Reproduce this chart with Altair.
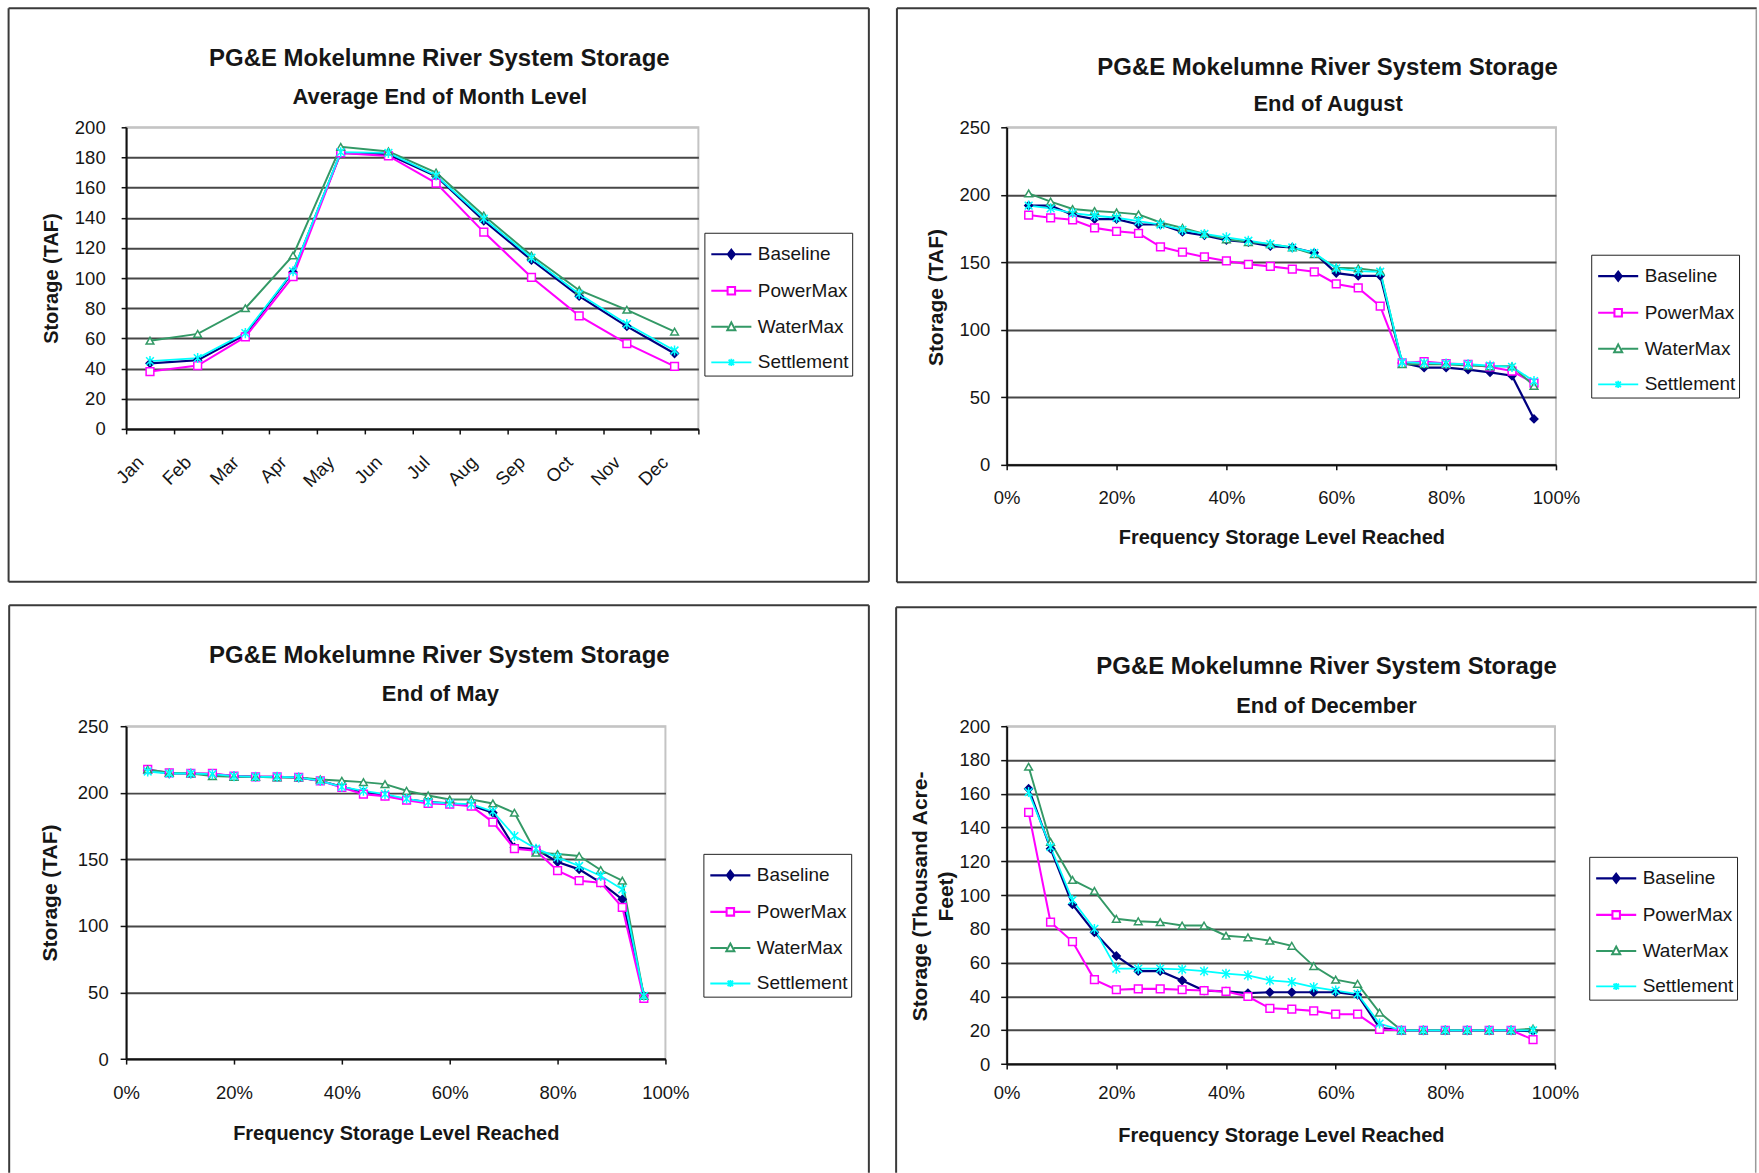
import altair as alt
import pandas as pd

FONT = "Liberation Sans"
TEXT = "#161616"
BORDER = "#3a3a3a"
EDGE = "#9a9a9a"
AXIS = "#111111"

SERIES = ["Baseline", "PowerMax", "WaterMax", "Settlement"]
COLORS = ["#000080", "#FF00FF", "#339966", "#00FFFF"]
FILLS = ["#000080", "#FFFFFF", "#FFFFFF", "transparent"]
LINE_WIDTHS = [2.2, 1.8, 1.4, 2.0]
ASTERISK = "M-1,-1L1,1M-1,1L1,-1M0,-1.3V1.3"
SHAPES = ["diamond", "square", "triangle-up", ASTERISK]
LEGEND_PATHS = [
    "M-1.18,0H1.18M0,-0.26L0.2,0L0,0.26L-0.2,0Z",
    "M-1.18,0H-0.22M0.22,0H1.18M-0.22,-0.22H0.22V0.22H-0.22Z",
    "M-1.18,0H-0.2M0.2,0H1.18M0,-0.26L0.24,0.2H-0.24Z",
    "M-1.18,0H1.18M-0.16,-0.16L0.16,0.16M-0.16,0.16L0.16,-0.16M0,-0.21V0.21",
]

TITLE = "PG&E Mokelumne River System Storage"
SUB_MONTH = "Average End of Month Level"
SUB_AUG = "End of August"
SUB_MAY = "End of May"
SUB_DEC = "End of December"
X_TITLE = "Frequency Storage Level Reached"
Y_TITLE_TL = "Storage (TAF)"
Y_TITLE_TR = "Storage  (TAF)"
Y_TITLE_BL = "Storage  (TAF)"
Y_TITLE_BR = ["Storage (Thousand Acre-", "Feet)"]

MONTHS = ["Jan", "Feb", "Mar", "Apr", "May", "Jun", "Jul", "Aug", "Sep", "Oct", "Nov", "Dec"]
MONTH_BASELINE = [43.5, 45.5, 62.5, 104, 183, 182, 167.5, 138, 112, 88, 68, 50]
MONTH_POWERMAX = [38, 42, 61, 101, 183, 181, 163, 130.5, 100.5, 75, 56.5, 41.5]
MONTH_WATERMAX = [58.5, 63, 80, 115, 187, 184, 170, 141.5, 115, 92, 79, 64.5]
MONTH_SETTLEMENT = [45, 47, 63.5, 104.5, 183.5, 183, 168, 139.5, 113.5, 89.5, 69.5, 52]

FREQ = [0.04, 0.08, 0.12, 0.16, 0.20, 0.24, 0.28, 0.32, 0.36, 0.40, 0.44, 0.48,
        0.52, 0.56, 0.60, 0.64, 0.68, 0.72, 0.76, 0.80, 0.84, 0.88, 0.92, 0.96]
FREQ_TICKS = [0, 0.2, 0.4, 0.6, 0.8, 1.0]

AUG_BASELINE = [192, 192, 185, 182, 182, 178, 178, 172.5, 170, 166.5, 165, 162,
                161, 157, 142, 140, 140, 75.5, 72, 72, 70.5, 68.5, 66, 34]
AUG_POWERMAX = [185, 183, 181.5, 175.5, 173, 171.5, 161.5, 157.5, 154, 151, 148.5, 147,
                145, 143, 134, 131, 117.5, 75.5, 76.5, 75, 74.5, 72.5, 69.5, 60.5]
AUG_WATERMAX = [201, 195, 189.5, 188, 187, 185.5, 179.5, 175.5, 171, 167, 165, 163.5,
                161, 156, 146, 145.5, 143.5, 74.5, 74.5, 74.5, 73.5, 73, 73, 58.5]
AUG_SETTLEMENT = [192, 190, 186.5, 184.5, 183, 180.5, 178, 174, 171, 168.5, 166, 163.5,
                  161, 157, 145.5, 143.5, 143, 76, 75.5, 75, 74.5, 73.5, 72.5, 62]

MAY_BASELINE = [217, 214.5, 214.5, 214, 212.5, 212, 212, 211.5, 209, 204.5, 200.5, 198,
                195, 193, 192, 190.5, 185, 159, 157.5, 148, 142.5, 132.5, 120, 47.5]
MAY_POWERMAX = [217.5, 215, 214.5, 214.5, 212.5, 212, 212, 211.5, 209, 204, 199, 197.5,
                194.5, 192, 191.5, 190, 178, 158, 156.5, 141.5, 134, 132.5, 114, 45.5]
MAY_WATERMAX = [217.5, 215, 214.5, 212.5, 212, 212, 211.5, 211.5, 210, 209, 208, 206.5,
                201.5, 198, 195, 195, 192, 185, 155, 154, 152.5, 142, 134, 47.5]
MAY_SETTLEMENT = [216, 214.5, 214.5, 214, 212.5, 212, 212, 211.5, 209, 204.5, 201.5, 199,
                  195.5, 193, 192, 191.5, 186, 167.5, 158, 151.5, 145, 137.5, 127.5, 47.5]

DEC_BASELINE = [163, 127.5, 94.5, 78, 64, 55, 55, 49.5, 43.5, 43, 42, 42.5,
                42.5, 42.5, 42.5, 41, 21.5, 20, 20, 20, 20, 20, 20, 19.5]
DEC_POWERMAX = [149, 84, 72.5, 50, 44, 44.5, 44.5, 44, 43.5, 43, 40, 33,
                32.5, 31.5, 29.5, 29.5, 20.5, 20, 20, 20, 20, 20, 20, 14.5]
DEC_WATERMAX = [176, 131.5, 109, 102.5, 86, 84.5, 84, 82, 82, 76, 75, 73,
                70, 58, 50, 47.5, 30.5, 20, 20, 20, 20, 20, 20, 21]
DEC_SETTLEMENT = [161, 128.5, 97, 80, 56.5, 56.5, 56.5, 56, 55, 53.5, 52.5, 49.5,
                  48.5, 45.5, 43.5, 41.5, 24, 20, 20, 20, 20, 20, 20, 20]

ONE = pd.DataFrame({"k": [0]})


def long_df(xs, lists):
    rows = []
    for s, vals in zip(SERIES, lists):
        for i, (x, v) in enumerate(zip(xs, vals)):
            rows.append({"x": x, "idx": i, "series": s, "value": v})
    return pd.DataFrame(rows)


def pick(values):
    expr = "'" + values[-1] + "'"
    for s, v in reversed(list(zip(SERIES[:-1], values[:-1]))):
        expr = "datum.value === '" + s + "' ? '" + v + "' : (" + expr + ")"
    return {"expr": expr}


def make_legend(lx, ly):
    return alt.Legend(
        title=None, orient="none", legendX=lx, legendY=ly,
        symbolType=pick(LEGEND_PATHS), symbolFillColor=pick(FILLS),
        symbolStrokeColor=pick(COLORS), symbolStrokeWidth=1.7, symbolOpacity=1,
        symbolSize=1156, symbolOffset=5.5, labelOffset=8,
        labelFont=FONT, labelFontSize=19, labelColor=TEXT, labelBaseline="middle",
        padding=3, rowPadding=7.6, strokeColor="#222222", fillColor="white",
    )


def text_mark(txt, x, y, size):
    return alt.Chart(ONE).mark_text(
        text=txt, font=FONT, fontSize=size, fontWeight="bold", color=TEXT,
        align="center", baseline="middle",
    ).encode(x=alt.value(x), y=alt.value(y))


def hline(x1, x2, y, color=BORDER, width=2):
    return alt.Chart(ONE).mark_rule(color=color, strokeWidth=width).encode(
        x=alt.value(x1), x2=alt.value(x2), y=alt.value(y))


def vline(x, y1, y2, color=BORDER, width=2):
    return alt.Chart(ONE).mark_rule(color=color, strokeWidth=width).encode(
        x=alt.value(x), y=alt.value(y1), y2=alt.value(y2))


def y_axis(y_max, step_values, title, tx, ty, tsize, tick, pad, line_height=None):
    kw = dict(
        values=step_values, format="d", title=title, titleX=tx, titleY=ty,
        titleAngle=-90, titleAlign="center", titleBaseline="middle",
        titleFont=FONT, titleFontSize=tsize, titleFontWeight="bold", titleColor=TEXT,
        labelFont=FONT, labelFontSize=18.5, labelColor=TEXT, labelPadding=pad,
        labelFlush=False, labelOverlap=False,
        tickSize=tick, tickColor=AXIS, tickWidth=1.5,
        domainColor=AXIS, domainWidth=2,
        grid=True, gridWidth=2,
        gridColor={"condition": {"test": "datum.value >= %s" % y_max, "value": "#c4c4c4"},
                   "value": "#474747"},
    )
    if line_height:
        kw["titleLineHeight"] = line_height
    return alt.Axis(**kw)


def freq_axis(w, label_pad, title_y):
    return alt.Axis(
        values=FREQ_TICKS, format=".0%", title=X_TITLE, titleX=w / 2, titleY=title_y,
        titleAlign="center", titleBaseline="middle",
        titleFont=FONT, titleFontSize=20, titleFontWeight="bold", titleColor=TEXT,
        labelFont=FONT, labelFontSize=18.5, labelColor=TEXT, labelBaseline="middle",
        labelPadding=label_pad, labelFlush=False, labelOverlap=False,
        tickSize=5, tickColor=AXIS, tickWidth=1.5, domainColor=AXIS, domainWidth=2, grid=False,
    )


def panel(df, x_enc, y_max, yax, legend_xy, w, h, decor):
    y_enc = alt.Y("value:Q", scale=alt.Scale(domain=[0, y_max], nice=False, zero=True), axis=yax)
    color_scale = alt.Scale(domain=SERIES, range=COLORS)
    lines = alt.Chart(df).mark_line(opacity=1).encode(
        x=x_enc, y=y_enc,
        color=alt.Color("series:N", scale=color_scale, legend=make_legend(*legend_xy)),
        strokeWidth=alt.StrokeWidth("series:N", scale=alt.Scale(domain=SERIES, range=LINE_WIDTHS),
                                    legend=None),
        order=alt.Order("idx:Q"),
    )
    point_layers = []
    for s, shp, fil in zip(SERIES, SHAPES, FILLS):
        point_layers.append(
            alt.Chart(df).transform_filter(alt.datum.series == s).mark_point(
                opacity=1, size=60, strokeWidth=1.5, shape=shp, fill=fil,
            ).encode(
                x=x_enc, y=y_enc,
                color=alt.Color("series:N", scale=color_scale, legend=None),
            )
        )
    return alt.layer(lines, *point_layers, *decor).properties(width=w, height=h)


# ---------- Top-left: average end of month ----------
df_tl = long_df(MONTHS, [MONTH_BASELINE, MONTH_POWERMAX, MONTH_WATERMAX, MONTH_SETTLEMENT])
x_tl = alt.X("x:N", sort=MONTHS, scale=alt.Scale(type="band", paddingInner=0, paddingOuter=0),
             axis=alt.Axis(title=None, tickBand="extent", labelAngle=-45, labelAlign="right",
                           labelBaseline="middle", labelOffset=-10, labelPadding=25,
                           labelFont=FONT, labelFontSize=18.5, labelColor=TEXT,
                           labelFlush=False, labelOverlap=False, labelBound=False,
                           tickSize=5, tickColor=AXIS, tickWidth=1.5,
                           domainColor=AXIS, domainWidth=2, grid=False))
W_TL, H_TL = 573, 302
tl = panel(
    df_tl, x_tl, 200,
    y_axis(200, list(range(0, 201, 20)), Y_TITLE_TL, -74.5, 151, 20, 5, 16),
    (579, 105.6), W_TL, H_TL,
    [text_mark(TITLE, 313.6, -68, 24), text_mark(SUB_MONTH, 314, -30, 22),
     vline(-117.7, -119.3, 455), vline(743.7, -119.3, 455),
     hline(-117.7, 743.7, -119.3), hline(-117.7, 743.7, 455)],
)

# ---------- Top-right: end of August ----------
df_tr = long_df(FREQ, [AUG_BASELINE, AUG_POWERMAX, AUG_WATERMAX, AUG_SETTLEMENT])
W_TR, H_TR = 550, 338
x_tr = alt.X("x:Q", scale=alt.Scale(domain=[0, 1], nice=False), axis=freq_axis(W_TR, 28, 73))
tr = panel(
    df_tr, x_tr, 250,
    y_axis(250, list(range(0, 251, 50)), Y_TITLE_TR, -70.7, 170, 21, 6, 11),
    (585.3, 127.6), W_TR, H_TR,
    [text_mark(TITLE, 321.3, -59.5, 24), text_mark(SUB_AUG, 321.8, -23.5, 22),
     vline(-109.9, -119.3, 455.6), hline(-109.9, 751, -119.3), hline(-109.9, 751, 455.6),
     vline(750.6, -118.3, 454.6, EDGE, 1.5)],
)

# ---------- Bottom-left: end of May ----------
df_bl = long_df(FREQ, [MAY_BASELINE, MAY_POWERMAX, MAY_WATERMAX, MAY_SETTLEMENT])
W_BL, H_BL = 540, 333.3
x_bl = alt.X("x:Q", scale=alt.Scale(domain=[0, 1], nice=False), axis=freq_axis(W_BL, 28, 74.7))
bl = panel(
    df_bl, x_bl, 250,
    y_axis(250, list(range(0, 251, 50)), Y_TITLE_BL, -75.6, 166.5, 21, 6, 12),
    (578, 127.8), W_BL, H_BL,
    [text_mark(TITLE, 313.6, -70.5, 24), text_mark(SUB_MAY, 314.7, -32, 22),
     vline(-117.1, -121, 447), vline(743.7, -121, 447), hline(-117.1, 743.7, -121)],
)

# ---------- Bottom-right: end of December ----------
df_br = long_df(FREQ, [DEC_BASELINE, DEC_POWERMAX, DEC_WATERMAX, DEC_SETTLEMENT])
W_BR, H_BR = 549, 338.3
x_br = alt.X("x:Q", scale=alt.Scale(domain=[0, 1], nice=False), axis=freq_axis(W_BR, 23, 71.7))
br = panel(
    df_br, x_br, 200,
    y_axis(200, list(range(0, 201, 20)), Y_TITLE_BR, -86.7, 170, 21, 6, 11, line_height=26),
    (583.3, 130.8), W_BR, H_BR,
    [text_mark(TITLE, 320.3, -59.5, 24), text_mark(SUB_DEC, 320.3, -20, 22),
     vline(-110.7, -119.2, 447), hline(-110.7, 751, -119.2),
     vline(750, -118.2, 447, EDGE, 1.5)],
)

chart = alt.concat(
    tl, tr, bl, br, columns=2, bounds="flush",
    spacing={"row": 725 - 125 - 338.3, "column": 1006.7 - 125 - 573},
).resolve_scale(
    x="independent", y="independent", color="independent", strokeWidth="independent",
).resolve_legend(
    color="independent", strokeWidth="independent",
).properties(
    padding={"left": 6.3, "top": 4.7, "right": 0, "bottom": 0},
    background="white",
).configure(
    font=FONT,
).configure_view(
    stroke="#c4c4c4", strokeWidth=2,
)

chart.save("out.html", embed_options={"renderer": "svg", "actions": False})
